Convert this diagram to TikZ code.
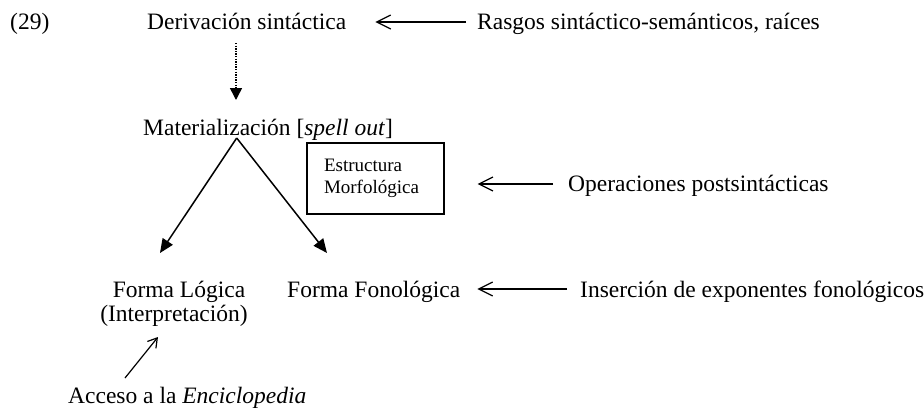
\documentclass[tikz,border=0pt]{standalone}
\usepackage{fontspec}
\setmainfont{Liberation Serif}
\usetikzlibrary{arrows.meta}
\begin{document}
\begin{tikzpicture}[x=1pt,y=-1pt,
  txt/.style={inner sep=0pt, font=\fontsize{23.5}{28}\selectfont},
  fillarrow/.style={-{Triangle[length=14pt,width=12pt]}, line width=1.5pt},
  openarrow/.style={-{Straight Barb[length=14pt,width=14pt]}, line width=1.2pt},
  smallarrow/.style={-{Straight Barb[length=9pt,width=11pt]}, line width=1.2pt},
]
\useasboundingbox (0,0) rectangle (924,410);
\node[txt,anchor=base west] (n29) at (10,29) {(29)};
\node[txt,anchor=base west] (der) at (147,29) {Derivación sintáctica};
\node[txt,anchor=base west] (rasgos) at (477,29) {Rasgos sintáctico-semánticos, raíces};
\node[txt,anchor=base west] (mat) at (143,135) {Materialización [\textit{spell out}]};
\node[draw, line width=1.3pt, minimum width=137pt, minimum height=71pt, text width=103pt, inner xsep=17pt, inner ysep=0pt, align=left, font=\fontsize{19}{22}\selectfont] (box) at (375.5,178.5) {Estructura\\Morfológica};
\node[txt,anchor=base west] (oper) at (568,191) {Operaciones postsintácticas};
\node[txt,anchor=base] (fl) at (179,297) {Forma Lógica};
\node[txt,anchor=base] (interp) at (174,321) {(Interpretación)};
\node[txt,anchor=base west] (ff) at (287,297) {Forma Fonológica};
\node[txt,anchor=base west] (ins) at (580,297) {Inserción de exponentes fonológicos};
\node[txt,anchor=base west] (acc) at (68,403) {Acceso a la \textit{Enciclopedia}};
% dotted arrow
\coordinate (dtop) at (236,43);
\coordinate (dbot) at (236,100);
\draw[line width=1.5pt, dash pattern=on 1.4pt off 1.2pt, -{Triangle[length=12pt,width=12pt]}] (dtop) -- (dbot);
% V arrows
\coordinate (apex) at (236.7,138);
\coordinate (tipL) at (160,253);
\coordinate (tipR) at (327,253);
\draw[fillarrow] (apex) -- (tipL);
\draw[fillarrow] (apex) -- (tipR);
% horizontal arrows
\draw[openarrow] ([xshift=-11pt,yshift=7pt]rasgos.base west) -- ([xshift=29pt,yshift=7pt]der.base east);
\draw[openarrow] ([xshift=-15pt,yshift=7pt]oper.base west) -- ([xshift=33pt,yshift=-5.5pt]box.east);
\draw[openarrow] ([xshift=-13pt,yshift=8pt]ins.base west) -- ([xshift=17pt,yshift=8pt]ff.base east);
% enciclopedia arrow
\coordinate (encS) at (125,378);
\coordinate (encE) at (158,337);
\draw[smallarrow] (encS) -- (encE);
\end{tikzpicture}
\end{document}
